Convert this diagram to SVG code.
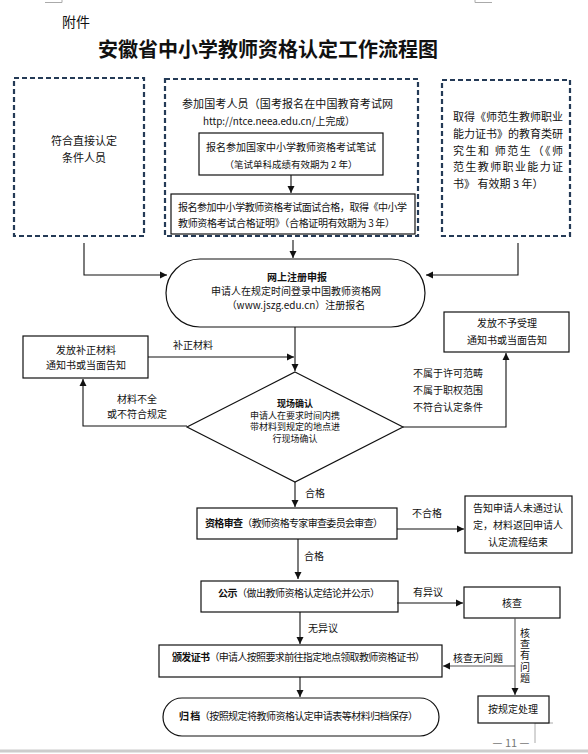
<svg xmlns="http://www.w3.org/2000/svg" width="588" height="754" viewBox="0 0 588 754">
<style>
text{font-family:"Noto Sans CJK SC","Liberation Sans",sans-serif;font-size:10px;fill:#111}
.c{text-anchor:middle}
.b{font-weight:bold}
.s{font-size:9px}
.dash{fill:none;stroke:#243a56;stroke-width:2.2;stroke-dasharray:5 3}
.box{fill:#fff;stroke:#111;stroke-width:1.2}
.ln{fill:none;stroke:#111;stroke-width:1.1;marker-end:url(#a)}
.mk{fill:none;stroke:#aaa;stroke-width:1}
</style>
<defs>
<marker id="a" markerWidth="8" markerHeight="8" refX="7" refY="4" orient="auto" markerUnits="userSpaceOnUse"><path d="M0,0.5 L7,4 L0,7.5 z" fill="#111"/></marker>
</defs>
<rect width="588" height="754" fill="#fff"/>
<g id="marks">
<path class="mk" d="M45,2.5 H62 V0 M475,0 V2.5 H492 M535,743 V723 H553"/>
<line x1="0" y1="751" x2="588" y2="751" stroke="#ccc" stroke-width="3"/>
</g>
<text x="62" y="27" style="font-size:14px">附件</text>
<text x="268" y="57" class="c b" style="font-size:20px">安徽省中小学教师资格认定工作流程图</text>

<g id="direct">
<rect class="dash" x="14" y="78" width="130" height="158"/>
<text x="84" y="145" class="c" style="font-size:11px">符合直接认定</text>
<text x="84" y="162" class="c" style="font-size:11px">条件人员</text>
</g>
<g id="exam">
<rect class="dash" x="165" y="79" width="253" height="157"/>
<text x="182" y="108" style="font-size:11px" textLength="211" lengthAdjust="spacing">参加国考人员（国考报名在中国教育考试网</text>
<text x="203" y="125" style="font-size:10.5px" textLength="152" lengthAdjust="spacingAndGlyphs">http://ntce.neea.edu.cn/上完成）</text>
</g>
<g id="written">
<rect class="box" x="199" y="133" width="184" height="42"/>
<text x="291" y="151" class="c">报名参加国家中小学教师资格考试笔试</text>
<text x="291" y="168" class="c" style="font-size:9.5px">（笔试单科成绩有效期为 2 年）</text>
</g>
<g id="interview">
<rect class="box" x="171" y="194" width="244" height="40"/>
<text x="178" y="211" textLength="229" lengthAdjust="spacing">报名参加中小学教师资格考试面试合格，取得《中小学</text>
<text x="178" y="227" textLength="217" lengthAdjust="spacing">教师资格考试合格证明》（合格证明有效期为 3 年）</text>
</g>
<g id="normal">
<rect class="dash" x="442" y="80" width="128" height="156"/>
<text x="453" y="121" style="font-size:11px" textLength="110" lengthAdjust="spacing">取得《师范生教师职业</text>
<text x="453" y="138" style="font-size:11px" textLength="110" lengthAdjust="spacing">能力证书》的教育类研</text>
<text x="453" y="155" style="font-size:11px" textLength="110" lengthAdjust="spacing">究生和 师范生（《师</text>
<text x="453" y="171" style="font-size:11px" textLength="110" lengthAdjust="spacing">范生教师职业能力证</text>
<text x="453" y="188" style="font-size:11px">书》 有效期 3 年）</text>
</g>
<g id="online">
<rect class="box" x="166" y="259" width="259" height="68" rx="34"/>
<text x="297" y="281" class="c b">网上注册申报</text>
<text x="296" y="295" class="c">申请人在规定时间登录中国教师资格网</text>
<text x="296" y="309" class="c">（www.jszg.edu.cn）注册报名</text>
</g>
<g id="correct">
<rect class="box" x="23" y="336" width="125" height="42"/>
<text x="86" y="354" class="c">发放补正材料</text>
<text x="86" y="369" class="c">通知书或当面告知</text>
</g>
<g id="confirm">
<polygon class="box" points="295,372 403,427 295,482 187,427"/>
<text x="295" y="407" class="c b s">现场确认</text>
<text x="295" y="418.5" class="c s">申请人在要求时间内携</text>
<text x="295" y="430" class="c s">带材料到规定的地点进</text>
<text x="295" y="441.5" class="c s">行现场确认</text>
</g>
<g id="reject">
<rect class="box" x="444" y="312" width="125" height="40"/>
<text x="507" y="327" class="c">发放不予受理</text>
<text x="507" y="344" class="c">通知书或当面告知</text>
</g>
<g id="review">
<rect class="box" x="197" y="508" width="200" height="31"/>
<text x="205" y="527" textLength="178" lengthAdjust="spacing"><tspan class="b">资格审查</tspan>（教师资格专家审查委员会审查）</text>
</g>
<g id="fail">
<rect class="box" x="465" y="496" width="107" height="57"/>
<text x="518" y="512" class="c">告知申请人未通过认</text>
<text x="518" y="529" class="c">定，材料返回申请人</text>
<text x="518" y="546" class="c">认定流程结束</text>
</g>
<g id="publicity">
<rect class="box" x="201" y="581" width="197" height="31"/>
<text x="218" y="597" textLength="162" lengthAdjust="spacing"><tspan class="b">公示</tspan>（做出教师资格认定结论并公示）</text>
</g>
<g id="check">
<rect class="box" x="464" y="587" width="96" height="31"/>
<text x="512" y="607" class="c">核查</text>
</g>
<g id="issue">
<rect class="box" x="159" y="645" width="283" height="32"/>
<text x="172" y="661" textLength="253" lengthAdjust="spacing"><tspan class="b">颁发证书</tspan>（申请人按照要求前往指定地点领取教师资格证书）</text>
</g>
<g id="handle">
<rect class="box" x="478" y="696" width="71" height="27"/>
<text x="513" y="713" class="c">按规定处理</text>
</g>
<g id="archive">
<rect class="box" x="163" y="698" width="276" height="38" rx="19"/>
<text x="179" y="720" textLength="239" lengthAdjust="spacing"><tspan class="b">归 档</tspan>（按照规定将教师资格认定申请表等材料归档保存）</text>
</g>

<g id="connectors">
<path class="ln" d="M291,175 V193"/>
<path class="ln" d="M84,243 V275 H167"/>
<path class="ln" d="M293,240 V258"/>
<path class="ln" d="M518,243 V275 H426"/>
<path class="ln" d="M295,327 V371"/>
<path class="ln" d="M148,357 H294"/>
<path class="ln" d="M187,426 H83 V379"/>
<path class="ln" d="M403,427 H506 V353"/>
<path class="ln" d="M295,482 V507"/>
<path class="ln" d="M397,529 H464"/>
<path class="ln" d="M298,539 V579"/>
<path class="ln" d="M397,603 H463"/>
<path class="ln" d="M300,612 V644"/>
<path class="ln" d="M515,618 V695" style="stroke:#555"/>
<path class="ln" d="M515,666 H443" style="stroke:#555"/>
<path class="ln" d="M300,677 V697"/>
</g>
<g id="labels">
<text x="173" y="349">补正材料</text>
<text x="137" y="403" class="c">材料不全</text>
<text x="137" y="418" class="c">或不符合规定</text>
<text x="413" y="377">不属于许可范畴</text>
<text x="413" y="394">不属于职权范围</text>
<text x="413" y="411">不符合认定条件</text>
<text x="305" y="497">合格</text>
<text x="412" y="517">不合格</text>
<text x="304" y="560">合格</text>
<text x="413" y="596">有异议</text>
<text x="308" y="632">无异议</text>
<text x="453" y="662">核查无问题</text>
<text x="525" y="628" style="writing-mode:vertical-rl;letter-spacing:1.3px">核查有问题</text>
</g>
<text x="511" y="747" class="c" style="fill:#777;font-size:11px">— 11 —</text>
</svg>
